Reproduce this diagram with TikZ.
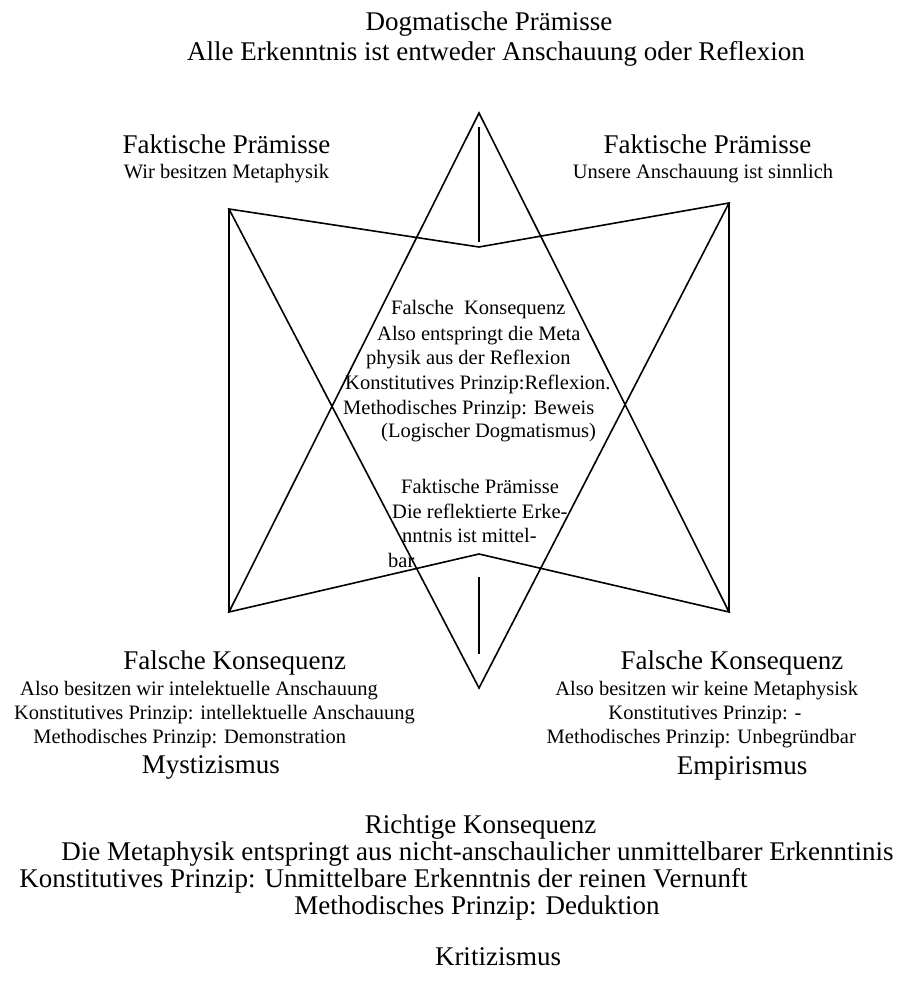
\documentclass[tikz,border=0pt]{standalone}
\usepackage{fontspec}
\setmainfont{Liberation Serif}
\begin{document}
\begin{tikzpicture}[x=1pt,y=-1pt,
  big/.style={font=\fontsize{27}{30}\selectfont, inner sep=0pt, anchor=base},
  small/.style={font=\fontsize{20.5}{24}\selectfont, inner sep=0pt, anchor=base},
  smallw/.style={small, anchor=base west},
  edge/.style={line width=1.6pt, line join=miter}]
\useasboundingbox (0,0) rectangle (901,992);

% corner points of the figure
\coordinate (A)  at (479,113);  % upper apex
\coordinate (Vb) at (479,247);  % notch of the upper V
\coordinate (TL) at (229,209);
\coordinate (TR) at (729,203);
\coordinate (BL) at (229,612);
\coordinate (BR) at (729,612);
\coordinate (Vt) at (479,554);  % notch of the lower V
\coordinate (Ab) at (479,688);  % lower apex
\coordinate (s1) at (479,127);
\coordinate (s2) at (479,242);
\coordinate (s3) at (479,577);
\coordinate (s4) at (479,654);

\draw[edge] (TL) -- (Vb) -- (TR) -- (Ab) -- cycle;
\draw[edge] (BL) -- (Vt) -- (BR) -- (A) -- cycle;
\draw[edge] (TL) -- (BL);
\draw[edge] (TR) -- (BR);
\draw[edge] (s1) -- (s2);
\draw[edge] (s3) -- (s4);

% heading
\node[big] (dp1) at (489,31) {Dogmatische Prämisse};
\node[big] (dp2) at (496,61) {Alle Erkenntnis ist entweder Anschauung oder Reflexion};

% upper side labels
\node[big]   (fl1) at (226.5,154) {Faktische Prämisse};
\node[small] (fl2) at (226.5,179) {Wir besitzen Metaphysik};
\node[big]   (fr1) at (707.5,154) {Faktische Prämisse};
\node[small] (fr2) at (703,179) {Unsere Anschauung ist sinnlich};

% centre
\node[smallw] (c1) at (391,314.5) {Falsche\ \ Konsequenz};
\node[smallw] (c2) at (377,340.5) {Also entspringt die Meta};
\node[smallw] (c3) at (366,364) {physik aus der Reflexion};
\node[smallw] (c4) at (345,389) {Konstitutives Prinzip:Reflexion.};
\node[smallw] (c5) at (343,414) {Methodisches Prinzip: Beweis};
\node[smallw] (c6) at (381,437.5) {(Logischer Dogmatismus)};
\node[smallw] (m1) at (401,493) {Faktische Prämisse};
\node[smallw] (m2) at (392,518.5) {Die reflektierte Erke-};
\node[smallw] (m3) at (402,542) {nntnis ist mittel-};
\node[smallw] (m4) at (388,567) {bar};

% lower left
\node[big]   (l1) at (234.7,669) {Falsche Konsequenz};
\node[small] (l2) at (199,695.5) {Also besitzen wir intelektuelle Anschauung};
\node[small] (l3) at (214.5,719) {Konstitutives Prinzip: intellektuelle Anschauung};
\node[small] (l4) at (189.7,743.5) {Methodisches Prinzip: Demonstration};
\node[big]   (l5) at (210.8,773.5) {Mystizismus};

% lower right
\node[big]   (r1) at (732,669) {Falsche Konsequenz};
\node[small] (r2) at (706.7,695.5) {Also besitzen wir keine Metaphysisk};
\node[small] (r3) at (705,719) {Konstitutives Prinzip: -};
\node[small] (r4) at (701.3,743.5) {Methodisches Prinzip: Unbegründbar};
\node[big]   (r5) at (742,774) {Empirismus};

% conclusion
\node[big] (k1) at (480.6,833) {Richtige Konsequenz};
\node[big] (k2) at (477.5,860) {Die Metaphysik entspringt aus nicht-anschaulicher unmittelbarer Erkenntinis};
\node[big] (k3) at (383.5,887) {Konstitutives Prinzip: Unmittelbare Erkenntnis der reinen Vernunft};
\node[big] (k4) at (477,914) {Methodisches Prinzip: Deduktion};
\node[big] (k5) at (498,965) {Kritizismus};
\end{tikzpicture}
\end{document}
